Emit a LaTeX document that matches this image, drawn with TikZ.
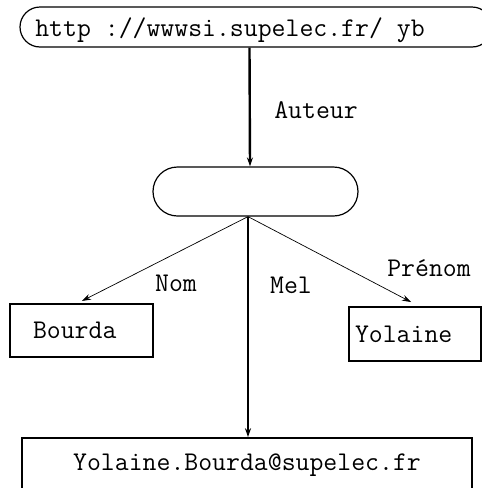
\documentclass[tikz,border=0pt]{standalone}
\usetikzlibrary{shapes.misc,arrows.meta}
\begin{document}
\begin{tikzpicture}[x=1pt,y=-1pt,
  lbl/.style={font=\fontsize{27}{31}\selectfont\ttfamily,inner sep=0pt},
  capsule/.style={rounded rectangle,draw,line width=1.2pt,inner sep=0pt},
  boxn/.style={draw,line width=1.6pt,inner sep=0pt,font=\fontsize{27}{31}\selectfont\ttfamily},
  tip/.style={-{Stealth[length=9pt,width=6pt]}}]
\useasboundingbox (0,0) rectangle (482,488);
\clip (0,0) rectangle (482,488);
\node[capsule,minimum width=472,minimum height=40] (url) at (256,27) {};
\node[lbl] (urltext) at (230,30) {http ://wwwsi.supelec.fr/ yb};
\node[capsule,minimum width=205,minimum height=49] (mid) at (255.5,191.5) {};
\node[boxn,minimum height=53,inner xsep=23,text width=97,align=left] (nom) at (81.5,330.5) {Bourda};
\node[boxn,minimum height=54,inner xsep=6,text width=120,align=left] (pre) at (415,334) {Yolaine};
\node[boxn,minimum width=450,minimum height=54] (mel) at (247,465) {Yolaine.Bourda@supelec.fr};
\coordinate (src) at ([xshift=-7.5]mid.south);
\draw[tip,line width=2.4pt] ([xshift=-6]url.south -| mid.north) -- ([xshift=-5.5]mid.north);
\draw[tip,line width=0.7pt,shorten >=5pt] (src) -- ([xshift=-4]nom.north);
\draw[tip,line width=0.7pt,shorten >=9pt] (src) -- ([xshift=4]pre.north);
\draw[tip,line width=1.4pt] (src) -- (src |- mel.north);
\node[lbl] (auteur) at (316,110) {Auteur};
\node[lbl] (lnom) at (176,283) {Nom};
\node[lbl] (lmel) at (291,285) {Mel};
\node[lbl] (lpre) at (429,268) {Prénom};
\end{tikzpicture}
\end{document}
